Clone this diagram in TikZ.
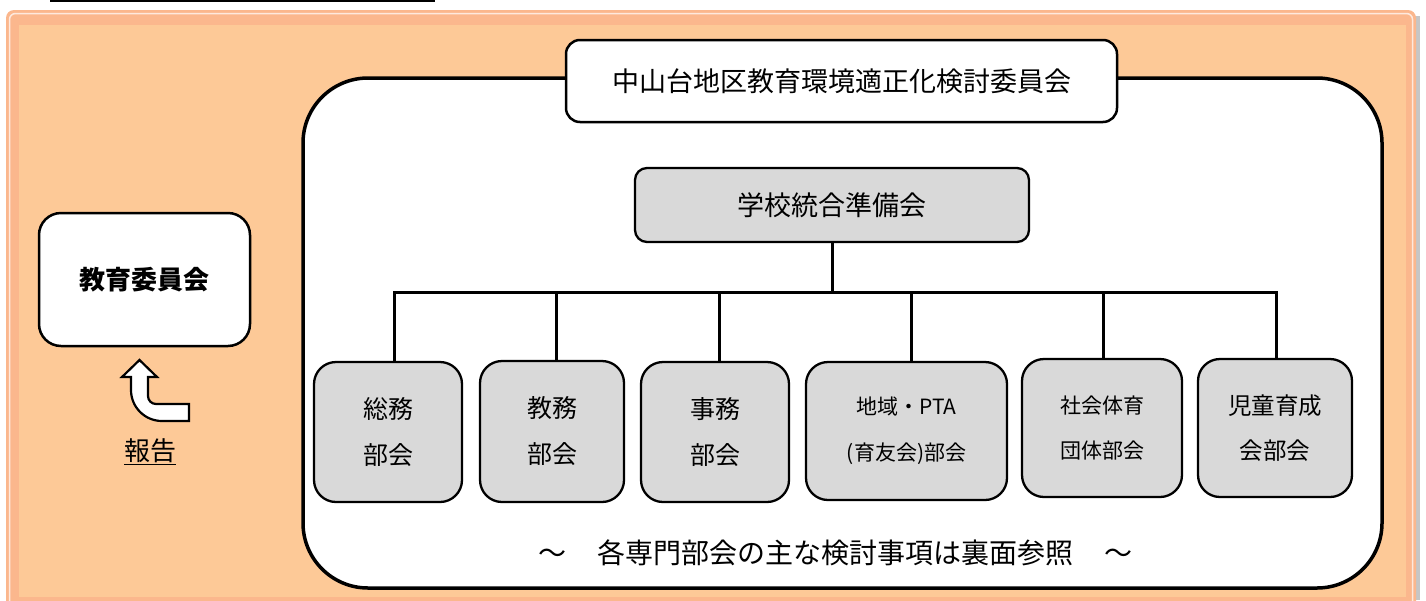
\documentclass[tikz,border=0pt]{standalone}
\usepackage{fontspec}
\setmainfont{Noto Sans CJK JP}
\definecolor{orfill}{HTML}{FDC997}
\definecolor{orband}{HTML}{FBB78D}
\definecolor{gfill}{HTML}{D9D9D9}
\tikzset{
  wbox/.style={draw=black, line width=2.5pt, fill=white, rounded corners=20pt, align=center, inner sep=0pt},
  gbox/.style={draw=black, line width=2.3pt, fill=gfill, rounded corners=22pt, align=center, inner sep=0pt},
  bigbox/.style={draw=black, line width=3.5pt, fill=white, rounded corners=65pt, inner sep=0pt},
  conn/.style={draw=black, line width=3pt},
  subA/.style={font=\fontsize{25}{46}\selectfont},
  subB/.style={font=\fontsize{21}{46}\selectfont},
  subC/.style={font=\fontsize{21}{45}\selectfont},
  subD/.style={font=\fontsize{23.5}{45}\selectfont},
}
\begin{document}
\begin{tikzpicture}[x=1pt,y=-1pt]
\useasboundingbox (0,0) rectangle (1426,600);
% outer orange frame
\fill[gray!45] (1414,16) rectangle (1420,600);
\fill[orband, rounded corners=8pt] (6,10) rectangle (1416,612);
\draw[white!70!orband, line width=1.5pt, rounded corners=6pt] (9.5,13.5) rectangle (1412.5,608);
\fill[orfill] (19,25) rectangle (1406,597);
% top partial rule
\draw[line width=2pt] (50,1) -- (435,1);
% big container
\node[bigbox, minimum width=1079pt, minimum height=510pt] (outer) at (842.5,333) {};
% title
\node[wbox, rounded corners=14pt, minimum width=551pt, minimum height=82pt,
      font=\fontsize{27}{32}\selectfont] (title) at (841.5,81) {中山台地区教育環境適正化検討委員会};
% preparation committee
\node[gbox, rounded corners=12pt, minimum width=394pt, minimum height=74pt,
      font=\fontsize{27}{32}\selectfont] (prep) at (832,205) {学校統合準備会};
% board of education
\node[wbox, rounded corners=22pt, minimum width=211pt, minimum height=133pt,
      font=\fontsize{26}{32}\selectfont\bfseries] (board) at (144.5,279.5) {教育委員会};
% sub committees
\node[gbox, subA, minimum width=148pt, minimum height=140pt] (b1) at (388,432) {総務\\部会};
\node[gbox, subA, minimum width=144pt, minimum height=141pt] (b2) at (552,431.5) {教務\\部会};
\node[gbox, subA, minimum width=148pt, minimum height=140pt] (b3) at (715,432) {事務\\部会};
\node[gbox, subB, minimum width=201pt, minimum height=138pt] (b4) at (906.5,431) {地域・PTA\\(育友会)部会};
\node[gbox, subC, minimum width=160pt, minimum height=138pt] (b5) at (1102,428) {社会体育\\団体部会};
\node[gbox, subD, minimum width=154pt, minimum height=138pt] (b6) at (1275,428) {児童育成\\会部会};
% connectors
\coordinate (j1) at (394,292);
\coordinate (j2) at (556,292);
\coordinate (j3) at (719,292);
\coordinate (j4) at (911,292);
\coordinate (j5) at (1103,292);
\coordinate (j6) at (1276,292);
\draw[conn] (prep.south) -- (prep.south |- j1);
\draw[conn, line cap=rect] (j1) -- (j6);
\draw[conn] (j1) -- (j1 |- b1.north);
\draw[conn] (j2) -- (j2 |- b2.north);
\draw[conn] (j3) -- (j3 |- b3.north);
\draw[conn] (j4) -- (j4 |- b4.north);
\draw[conn] (j5) -- (j5 |- b5.north);
\draw[conn] (j6) -- (j6 |- b6.north);
% report arrow
\draw[line width=2.2pt, fill=white, line join=miter]
  (139.5,360) -- (157,377) -- (148,377) -- (148,396) to[out=-90,in=180] (156,404)
  -- (189,404) -- (189,421) -- (162,421) to[out=180,in=-90] (131,390)
  -- (131,377) -- (122,377) -- cycle;
\node[font=\fontsize{26}{30}\selectfont] (report) at (150,452) {\underline{報告}};
% footer note
\node[font=\fontsize{28}{32}\selectfont] (note) at (835,553) {～\hspace{31pt}各専門部会の主な検討事項は裏面参照\hspace{31pt}～};
\end{tikzpicture}
\end{document}
